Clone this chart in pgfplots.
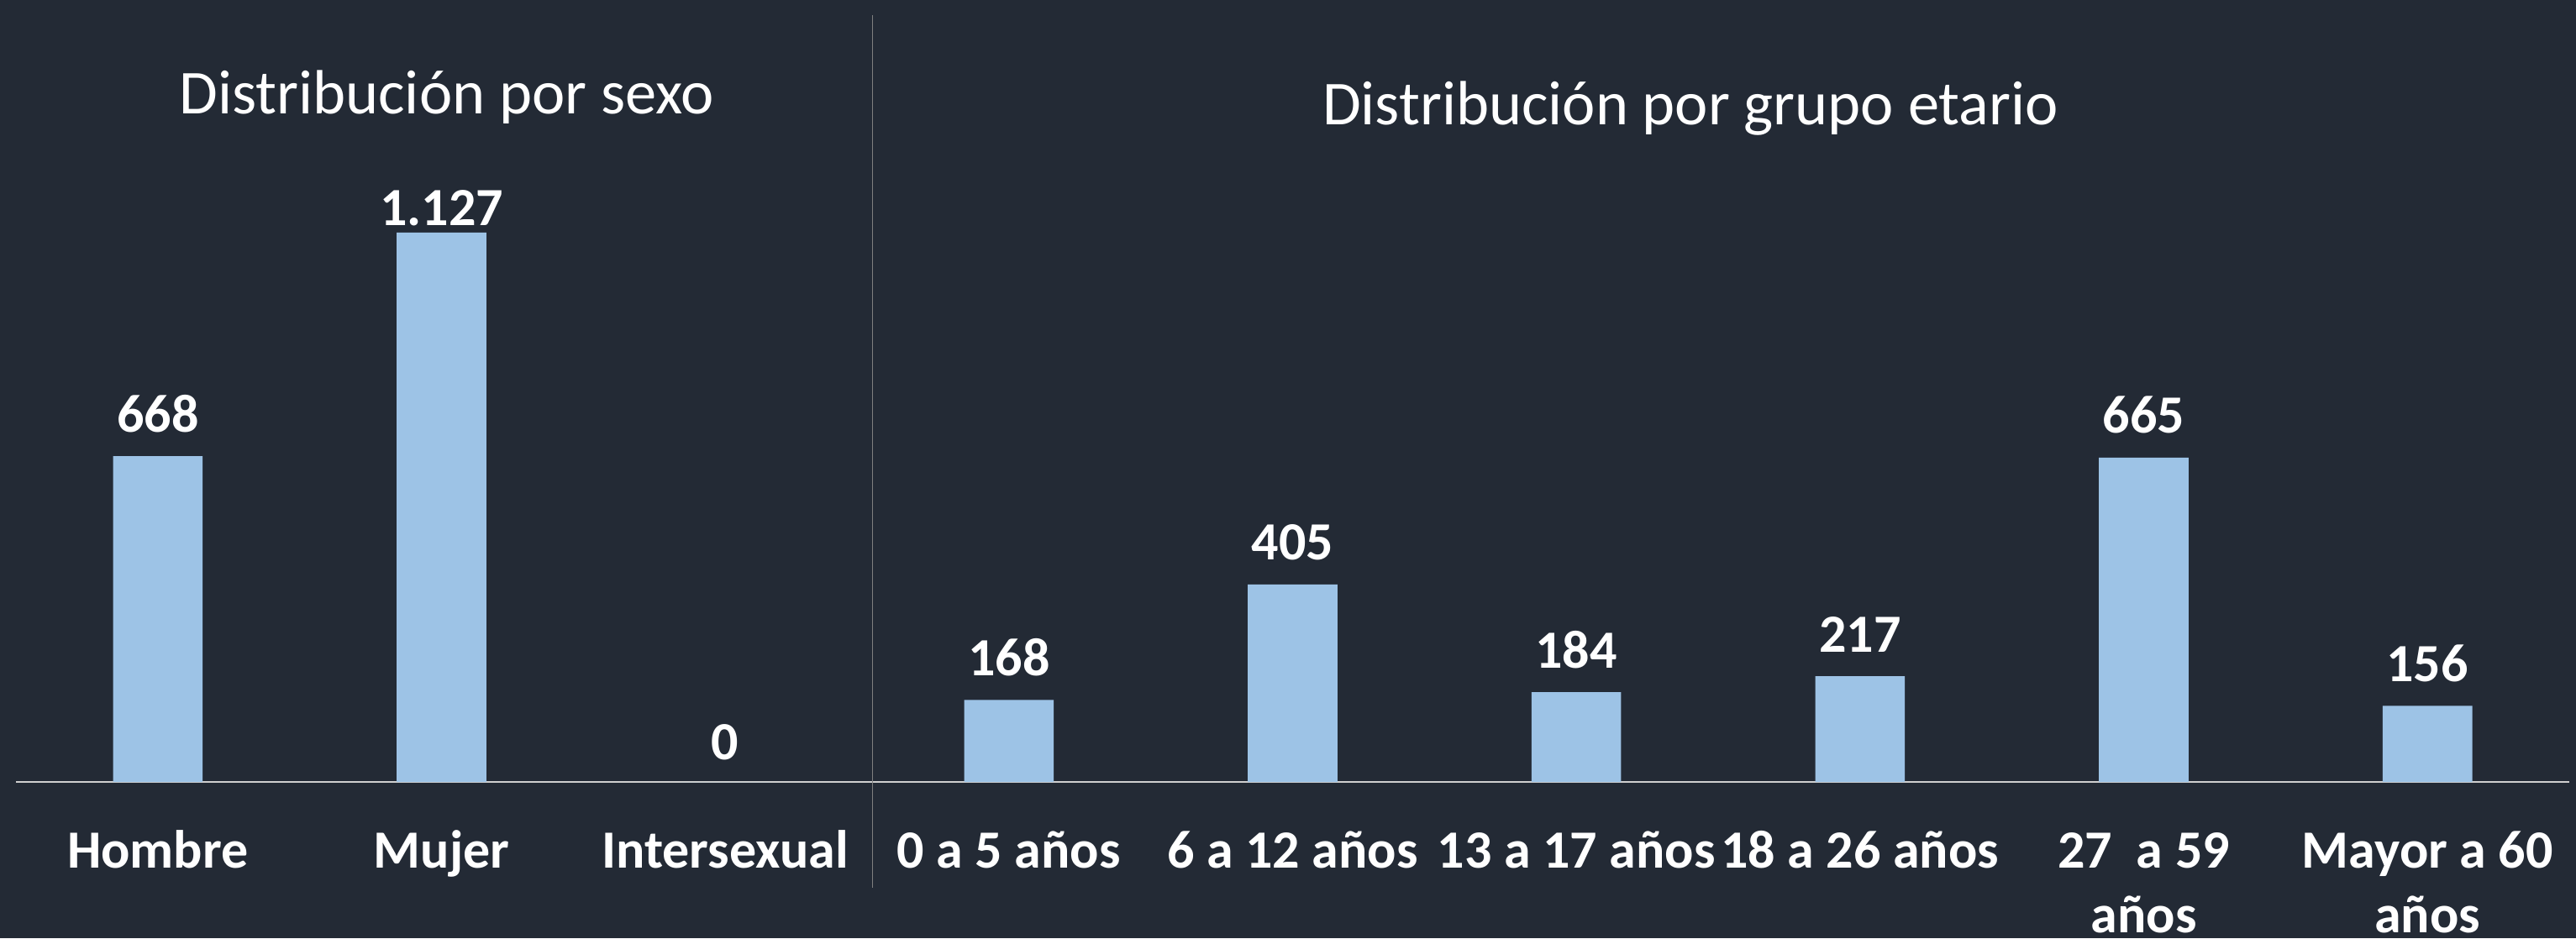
\documentclass[border=0pt]{standalone}
\usepackage{pgfplots}
\pgfplotsset{compat=1.18}
\usepackage{pgfplotstable}
\usepackage{fontspec}
\setmainfont{Carlito}
\definecolor{bg}{HTML}{232A35}
\definecolor{barc}{HTML}{9DC3E6}
\definecolor{axl}{HTML}{D0D0D0}
\definecolor{sepc}{HTML}{7F7F7F}
\pgfplotstableread{
x y lab dy
0 668 668 0
1 1127 1.127 -5.25
2 0 0 -0.5
3 168 168 0
4 405 405 0
5 184 184 0
6 217 217 0
7 665 665 0
8 156 156 0
}\data
\begin{document}
\begin{tikzpicture}[x=1bp,y=1bp]
\fill[bg] (0,0) rectangle (766.5,279.25);
\useasboundingbox (0,0) rectangle (766.5,279.25);
\begin{axis}[
  at={(4.75bp,46.5bp)}, anchor=south west,
  scale only axis, width=759.75bp, height=174.15bp,
  xmin=-0.5, xmax=8.5, ymin=0, ymax=1200,
  axis x line=bottom, axis y line=none,
  x axis line style={-, draw=axl, line width=0.55bp},
  xtick={0,...,8},
  xticklabels={Hombre, Mujer, Intersexual, 0 a 5 años, 6 a 12 años, 13 a 17 años, 18 a 26 años, {\begin{tabular}[t]{@{}c@{}}27\ \ a 59\\años\end{tabular}}, {\begin{tabular}[t]{@{}c@{}}Mayor a 60\\años\end{tabular}}},
  major tick length=0,
  xticklabel style={font=\fontsize{16bp}{19.25bp}\selectfont\bfseries, text=white, anchor=base, yshift=-25.5bp},
  ybar, bar width=26.65bp,
  clip=false,
  nodes near coords,
  point meta=explicit symbolic,
  visualization depends on={\thisrow{dy} \as \dy},
  every node near coord/.append style={font=\fontsize{16bp}{19bp}\selectfont\bfseries, text=white, anchor=base, inner sep=0pt, yshift={7.25bp+\dy bp}},
]
\addplot[fill=barc, draw=none] table[x=x, y=y, meta=lab] {\data};
\end{axis}
\draw[sepc, line width=0.3bp] (259.6,15) -- (259.6,274.75);
\node[anchor=base, text=white, font=\fontsize{18.6bp}{22bp}\selectfont, inner sep=0pt] at (132.9,245.5) {Distribución por sexo};
\node[anchor=base, text=white, font=\fontsize{18.6bp}{22bp}\selectfont, inner sep=0pt] at (503,242.25) {Distribución por grupo etario};
\end{tikzpicture}
\end{document}
